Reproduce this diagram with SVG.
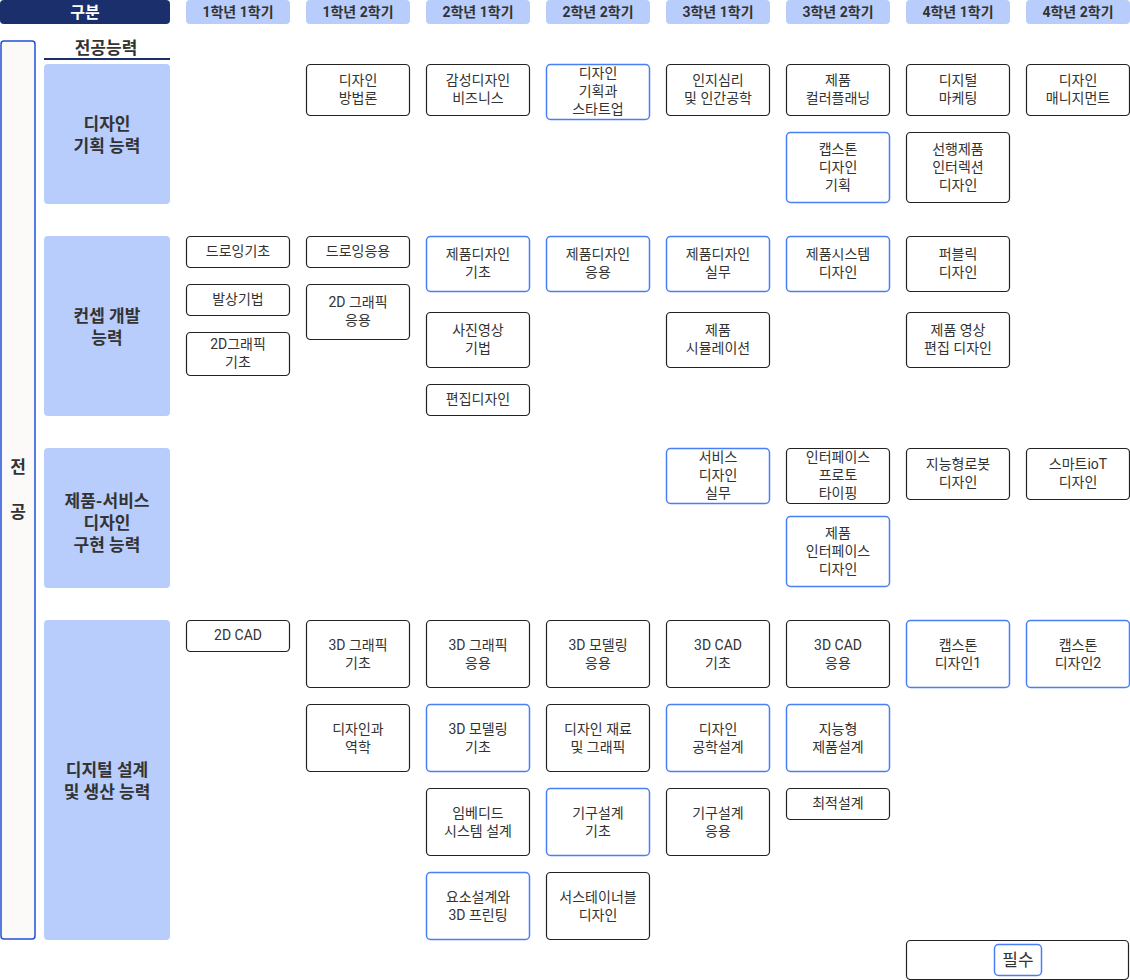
<svg xmlns="http://www.w3.org/2000/svg" width="1130" height="980" viewBox="0 0 1130 980">
<style>
text{font-family:Roboto,"Noto Sans CJK KR",sans-serif;fill:#333;text-anchor:middle}
.t{font-size:14px}
.h{font-size:14px;font-weight:bold}
.cat{font-size:17px;font-weight:bold}
.c{fill:#fff;stroke:#222;stroke-width:1.2}
.r{fill:#fff;stroke:#4a7ef5;stroke-width:1.5}
.hd{fill:#b8cdfb}
.ct{fill:#b8cdfb}
</style>
<rect width="1130" height="980" fill="#fff"/>
<g id="header">
<g id="h0"><rect x="0" y="0" width="170" height="24" rx="4" fill="#1a2f6b"/><text x="85" y="18" style="font-size:16px;font-weight:bold;fill:#fff">구분</text></g>
<g id="h1"><rect class="hd" x="186" y="0" width="104" height="24" rx="4"/><text class="h" x="238" y="17">1학년 1학기</text></g>
<g id="h2"><rect class="hd" x="306" y="0" width="104" height="24" rx="4"/><text class="h" x="358" y="17">1학년 2학기</text></g>
<g id="h3"><rect class="hd" x="426" y="0" width="104" height="24" rx="4"/><text class="h" x="478" y="17">2학년 1학기</text></g>
<g id="h4"><rect class="hd" x="546" y="0" width="104" height="24" rx="4"/><text class="h" x="598" y="17">2학년 2학기</text></g>
<g id="h5"><rect class="hd" x="666" y="0" width="104" height="24" rx="4"/><text class="h" x="718" y="17">3학년 1학기</text></g>
<g id="h6"><rect class="hd" x="786" y="0" width="104" height="24" rx="4"/><text class="h" x="838" y="17">3학년 2학기</text></g>
<g id="h7"><rect class="hd" x="906" y="0" width="104" height="24" rx="4"/><text class="h" x="958" y="17">4학년 1학기</text></g>
<g id="h8"><rect class="hd" x="1026" y="0" width="104" height="24" rx="4"/><text class="h" x="1078" y="17">4학년 2학기</text></g>
</g>
<g id="major">
<rect x="1" y="41" width="34" height="898" rx="3" fill="#fcf9f9" stroke="#2050d8" stroke-width="1.5"/>
<text class="cat" x="18" y="473">전</text>
<text class="cat" x="18" y="518">공</text>
</g>
<g id="ability-title">
<text x="106" y="54" style="font-size:17px;font-weight:bold">전공능력</text>
<line x1="44" y1="59" x2="170" y2="59" stroke="#1a2f6b" stroke-width="2"/>
</g>
<g id="cat1"><rect class="ct" x="44" y="64" width="126" height="140" rx="4"/><text class="cat" x="107" y="130">디자인</text><text class="cat" x="107" y="152">기획 능력</text></g>
<g id="cat2"><rect class="ct" x="44" y="236" width="126" height="180" rx="4"/><text class="cat" x="107" y="322">컨셉 개발</text><text class="cat" x="107" y="344">능력</text></g>
<g id="cat3"><rect class="ct" x="44" y="448" width="126" height="140" rx="4"/><text class="cat" x="107" y="507">제품-서비스</text><text class="cat" x="107" y="529">디자인</text><text class="cat" x="107" y="551">구현 능력</text></g>
<g id="cat4"><rect class="ct" x="44" y="620" width="126" height="320" rx="4"/><text class="cat" x="107" y="776">디지털 설계</text><text class="cat" x="107" y="798">및 생산 능력</text></g>

<g id="n1"><rect class="c" x="306.5" y="64.5" width="103" height="51" rx="4"/><text class="t" x="358" y="85">디자인</text><text class="t" x="358" y="103">방법론</text></g>
<g id="n2"><rect class="c" x="426.5" y="64.5" width="103" height="51" rx="4"/><text class="t" x="478" y="85">감성디자인</text><text class="t" x="478" y="103">비즈니스</text></g>
<g id="n3"><rect class="r" x="546.5" y="64.5" width="103" height="55" rx="4"/><text class="t" x="598" y="78">디자인</text><text class="t" x="598" y="96">기획과</text><text class="t" x="598" y="114">스타트업</text></g>
<g id="n4"><rect class="c" x="666.5" y="64.5" width="103" height="51" rx="4"/><text class="t" x="718" y="85">인지심리</text><text class="t" x="718" y="103">및 인간공학</text></g>
<g id="n5"><rect class="c" x="786.5" y="64.5" width="103" height="51" rx="4"/><text class="t" x="838" y="85">제품</text><text class="t" x="838" y="103">컬러플래닝</text></g>
<g id="n6"><rect class="c" x="906.5" y="64.5" width="103" height="51" rx="4"/><text class="t" x="958" y="85">디지털</text><text class="t" x="958" y="103">마케팅</text></g>
<g id="n7"><rect class="c" x="1026.5" y="64.5" width="103" height="51" rx="4"/><text class="t" x="1078" y="85">디자인</text><text class="t" x="1078" y="103">매니지먼트</text></g>
<g id="n8"><rect class="r" x="786.5" y="132.5" width="103" height="70" rx="4"/><text class="t" x="838" y="154">캡스톤</text><text class="t" x="838" y="172">디자인</text><text class="t" x="838" y="190">기획</text></g>
<g id="n9"><rect class="c" x="906.5" y="132.5" width="103" height="70" rx="4"/><text class="t" x="958" y="154">선행제품</text><text class="t" x="958" y="172">인터렉션</text><text class="t" x="958" y="190">디자인</text></g>

<g id="n10"><rect class="c" x="186.5" y="236.5" width="103" height="31" rx="4"/><text class="t" x="238" y="256">드로잉기초</text></g>
<g id="n11"><rect class="c" x="186.5" y="284.5" width="103" height="31" rx="4"/><text class="t" x="238" y="304">발상기법</text></g>
<g id="n12"><rect class="c" x="186.5" y="332.5" width="103" height="43" rx="4"/><text class="t" x="238" y="349">2D그래픽</text><text class="t" x="238" y="367">기초</text></g>
<g id="n13"><rect class="c" x="306.5" y="236.5" width="103" height="31" rx="4"/><text class="t" x="358" y="256">드로잉응용</text></g>
<g id="n14"><rect class="c" x="306.5" y="284.5" width="103" height="55" rx="4"/><text class="t" x="358" y="307">2D 그래픽</text><text class="t" x="358" y="325">응용</text></g>
<g id="n15"><rect class="r" x="426.5" y="236.5" width="103" height="55" rx="4"/><text class="t" x="478" y="259">제품디자인</text><text class="t" x="478" y="277">기초</text></g>
<g id="n16"><rect class="c" x="426.5" y="312.5" width="103" height="55" rx="4"/><text class="t" x="478" y="335">사진영상</text><text class="t" x="478" y="353">기법</text></g>
<g id="n17"><rect class="c" x="426.5" y="384.5" width="103" height="31" rx="4"/><text class="t" x="478" y="404">편집디자인</text></g>
<g id="n18"><rect class="r" x="546.5" y="236.5" width="103" height="55" rx="4"/><text class="t" x="598" y="259">제품디자인</text><text class="t" x="598" y="277">응용</text></g>
<g id="n19"><rect class="r" x="666.5" y="236.5" width="103" height="55" rx="4"/><text class="t" x="718" y="259">제품디자인</text><text class="t" x="718" y="277">실무</text></g>
<g id="n20"><rect class="c" x="666.5" y="312.5" width="103" height="55" rx="4"/><text class="t" x="718" y="335">제품</text><text class="t" x="718" y="353">시뮬레이션</text></g>
<g id="n21"><rect class="r" x="786.5" y="236.5" width="103" height="55" rx="4"/><text class="t" x="838" y="259">제품시스템</text><text class="t" x="838" y="277">디자인</text></g>
<g id="n22"><rect class="c" x="906.5" y="236.5" width="103" height="55" rx="4"/><text class="t" x="958" y="259">퍼블릭</text><text class="t" x="958" y="277">디자인</text></g>
<g id="n23"><rect class="c" x="906.5" y="312.5" width="103" height="55" rx="4"/><text class="t" x="958" y="335">제품 영상</text><text class="t" x="958" y="353">편집 디자인</text></g>

<g id="n24"><rect class="r" x="666.5" y="448.5" width="103" height="55" rx="4"/><text class="t" x="718" y="462">서비스</text><text class="t" x="718" y="480">디자인</text><text class="t" x="718" y="498">실무</text></g>
<g id="n25"><rect class="c" x="786.5" y="448.5" width="103" height="55" rx="4"/><text class="t" x="838" y="462">인터페이스</text><text class="t" x="838" y="480">프로토</text><text class="t" x="838" y="498">타이핑</text></g>
<g id="n26"><rect class="r" x="786.5" y="516.5" width="103" height="70" rx="4"/><text class="t" x="838" y="538">제품</text><text class="t" x="838" y="556">인터페이스</text><text class="t" x="838" y="574">디자인</text></g>
<g id="n27"><rect class="c" x="906.5" y="448.5" width="103" height="51" rx="4"/><text class="t" x="958" y="469">지능형로봇</text><text class="t" x="958" y="487">디자인</text></g>
<g id="n28"><rect class="c" x="1026.5" y="448.5" width="103" height="51" rx="4"/><text class="t" x="1078" y="469">스마트ioT</text><text class="t" x="1078" y="487">디자인</text></g>

<g id="n29"><rect class="c" x="186.5" y="620.5" width="103" height="31" rx="4"/><text class="t" x="238" y="640">2D CAD</text></g>
<g id="n30"><rect class="c" x="306.5" y="620.5" width="103" height="67" rx="4"/><text class="t" x="358" y="650">3D 그래픽</text><text class="t" x="358" y="668">기초</text></g>
<g id="n31"><rect class="c" x="306.5" y="704.5" width="103" height="67" rx="4"/><text class="t" x="358" y="734">디자인과</text><text class="t" x="358" y="752">역학</text></g>
<g id="n32"><rect class="c" x="426.5" y="620.5" width="103" height="67" rx="4"/><text class="t" x="478" y="650">3D 그래픽</text><text class="t" x="478" y="668">응용</text></g>
<g id="n33"><rect class="r" x="426.5" y="704.5" width="103" height="67" rx="4"/><text class="t" x="478" y="734">3D 모델링</text><text class="t" x="478" y="752">기초</text></g>
<g id="n34"><rect class="c" x="426.5" y="788.5" width="103" height="67" rx="4"/><text class="t" x="478" y="818">임베디드</text><text class="t" x="478" y="836">시스템 설계</text></g>
<g id="n35"><rect class="r" x="426.5" y="872.5" width="103" height="67" rx="4"/><text class="t" x="478" y="902">요소설계와</text><text class="t" x="478" y="920">3D 프린팅</text></g>
<g id="n36"><rect class="c" x="546.5" y="620.5" width="103" height="67" rx="4"/><text class="t" x="598" y="650">3D 모델링</text><text class="t" x="598" y="668">응용</text></g>
<g id="n37"><rect class="c" x="546.5" y="704.5" width="103" height="67" rx="4"/><text class="t" x="598" y="734">디자인 재료</text><text class="t" x="598" y="752">및 그래픽</text></g>
<g id="n38"><rect class="r" x="546.5" y="788.5" width="103" height="67" rx="4"/><text class="t" x="598" y="818">기구설계</text><text class="t" x="598" y="836">기초</text></g>
<g id="n39"><rect class="c" x="546.5" y="872.5" width="103" height="67" rx="4"/><text class="t" x="598" y="902">서스테이너블</text><text class="t" x="598" y="920">디자인</text></g>
<g id="n40"><rect class="c" x="666.5" y="620.5" width="103" height="67" rx="4"/><text class="t" x="718" y="650">3D CAD</text><text class="t" x="718" y="668">기초</text></g>
<g id="n41"><rect class="r" x="666.5" y="704.5" width="103" height="67" rx="4"/><text class="t" x="718" y="734">디자인</text><text class="t" x="718" y="752">공학설계</text></g>
<g id="n42"><rect class="c" x="666.5" y="788.5" width="103" height="67" rx="4"/><text class="t" x="718" y="818">기구설계</text><text class="t" x="718" y="836">응용</text></g>
<g id="n43"><rect class="c" x="786.5" y="620.5" width="103" height="67" rx="4"/><text class="t" x="838" y="650">3D CAD</text><text class="t" x="838" y="668">응용</text></g>
<g id="n44"><rect class="r" x="786.5" y="704.5" width="103" height="67" rx="4"/><text class="t" x="838" y="734">지능형</text><text class="t" x="838" y="752">제품설계</text></g>
<g id="n45"><rect class="c" x="786.5" y="788.5" width="103" height="31" rx="4"/><text class="t" x="838" y="808">최적설계</text></g>
<g id="n46"><rect class="r" x="906.5" y="620.5" width="103" height="67" rx="4"/><text class="t" x="958" y="650">캡스톤</text><text class="t" x="958" y="668">디자인1</text></g>
<g id="n47"><rect class="r" x="1026.5" y="620.5" width="103" height="67" rx="4"/><text class="t" x="1078" y="650">캡스톤</text><text class="t" x="1078" y="668">디자인2</text></g>

<g id="legend">
<rect x="906.5" y="940.5" width="222" height="39" rx="4" fill="#fff" stroke="#222" stroke-width="1.2"/>
<rect class="r" x="994.5" y="944.5" width="47" height="31" rx="4"/>
<text x="1018" y="966" style="font-size:17px">필수</text>
</g>
<g id="connectors"/>
</svg>
